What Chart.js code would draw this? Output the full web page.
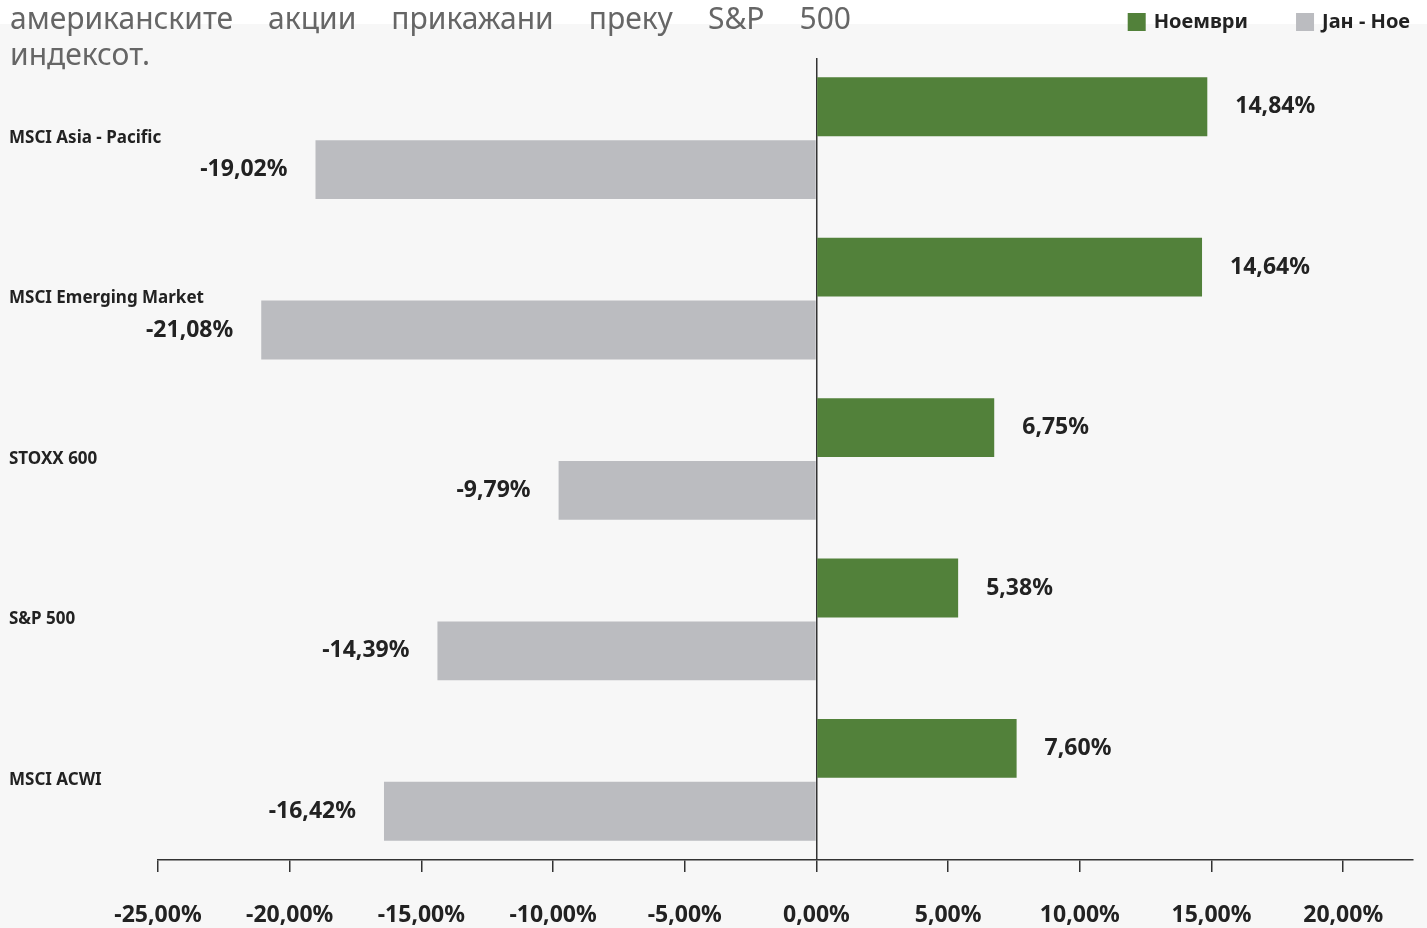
<!DOCTYPE html>
<html>
<head>
<meta charset="utf-8">
<script src="https://cdn.jsdelivr.net/npm/chart.js@4"></script>
<style>
  html, body { margin: 0; padding: 0; background: #fff; }
  body { width: 1427px; height: 928px; position: relative; overflow: hidden; font-family: "Noto Sans", sans-serif; }
  #bg { position: absolute; left: 0; top: 24px; width: 1427px; height: 904px; background: #f7f7f7; }
  #wrap { position: absolute; left: 0; top: 0; width: 1427px; height: 928px; }
  #title { position: absolute; left: 10px; top: 0; width: 841px; font-size: 30px; line-height: 36px; color: #666; }
  #title .l1 { text-align: justify; text-align-last: justify; }
</style>
</head>
<body>
<div id="bg"></div>
<div id="wrap"><canvas id="barChart" width="1427" height="928"></canvas></div>
<div id="title">
  <div class="l1">американските акции прикажани преку S&amp;P 500</div>
  <div>индексот.</div>
</div>
<script>
// データ
var categories = ["MSCI Asia - Pacific", "MSCI Emerging Market", "STOXX 600", "S&P 500", "MSCI ACWI"];
var seriesNames = ["Ноември", "Јан - Ное"];
var novemberValues = [14.84, 14.64, 6.75, 5.38, 7.60];
var ytdValues = [-19.02, -21.08, -9.79, -14.39, -16.42];
var tickValues = [-25, -20, -15, -10, -5, 0, 5, 10, 15, 20];

// 12,34% 形式
function fmt(v) {
  return v.toFixed(2).replace('.', ',') + '%';
}

// バーの値ラベル
var valueLabels = {
  id: 'valueLabels',
  afterDatasetsDraw: function (chart) {
    var ctx = chart.ctx;
    ctx.save();
    ctx.font = 'bold 23px "Noto Sans"';
    ctx.fillStyle = '#222';
    ctx.textBaseline = 'middle';
    chart.data.datasets.forEach(function (ds, i) {
      chart.getDatasetMeta(i).data.forEach(function (bar, j) {
        var v = ds.data[j];
        ctx.textAlign = v >= 0 ? 'left' : 'right';
        ctx.fillText(fmt(v), bar.x + (v >= 0 ? 28 : -28), bar.y);
      });
    });
    ctx.restore();
  }
};

// 右上の凡例
var topLegend = {
  id: 'topLegend',
  afterDraw: function (chart) {
    var ctx = chart.ctx;
    var sets = chart.data.datasets;
    var x = 1410;
    ctx.save();
    ctx.font = 'bold 20px "Noto Sans"';
    ctx.textBaseline = 'middle';
    ctx.textAlign = 'left';
    for (var i = sets.length - 1; i >= 0; i--) {
      var w = ctx.measureText(sets[i].label).width;
      x -= w;
      ctx.fillStyle = '#222';
      ctx.fillText(sets[i].label, x, 22);
      x -= 8 + 18;
      ctx.fillStyle = sets[i].backgroundColor;
      ctx.fillRect(x, 13, 18, 18);
      x -= 48;
    }
    ctx.restore();
  }
};

var ctx = document.getElementById("barChart");
var myChart = new Chart(ctx, {
  type: 'bar',
  data: {
    labels: categories,
    datasets: [
      {
        label: seriesNames[0],
        data: novemberValues,
        backgroundColor: "rgb(82, 129, 58)",
        categoryPercentage: 0.784,
        barPercentage: 0.936
      },
      {
        label: seriesNames[1],
        data: ytdValues,
        backgroundColor: "rgb(187, 188, 192)",
        categoryPercentage: 0.784,
        barPercentage: 0.936
      }
    ]
  },
  options: {
    indexAxis: 'y',
    responsive: false,
    animation: false,
    devicePixelRatio: 1,
    layout: {
      padding: { left: 0, right: 14, top: 58, bottom: 0 }
    },
    plugins: {
      legend: { display: false },
      tooltip: { enabled: false }
    },
    scales: {
      x: {
        type: 'linear',
        position: 'bottom',
        min: -25,
        max: 22.65,
        afterBuildTicks: function (scale) {
          scale.ticks = tickValues.map(function (v) { return { value: v }; });
        },
        afterFit: function (scale) { scale.height = 68; },
        ticks: {
          callback: function (v) { return fmt(v); },
          font: { family: 'Noto Sans', size: 23, weight: 'bold' },
          color: '#222',
          padding: 30,
          maxRotation: 0,
          autoSkip: false
        },
        grid: {
          //ゼロの線だけ表示
          color: function (c) { return c.tick && c.tick.value === 0 ? '#333' : 'rgba(0,0,0,0)'; },
          lineWidth: 1.5,
          tickColor: '#333',
          tickLength: 12,
          drawOnChartArea: true
        },
        border: { display: true, color: '#333', width: 1.5 }
      },
      y: {
        type: 'category',
        position: 'left',
        afterFit: function (scale) { scale.width = 158; },
        ticks: {
          font: { family: 'Noto Sans', size: 17, weight: 'bold' },
          color: '#222',
          //左寄せ (x = 158 - 149 = 9)
          mirror: true,
          padding: -149
        },
        grid: { display: false },
        border: { display: false }
      }
    }
  },
  plugins: [valueLabels, topLegend]
});
</script>
</body>
</html>
